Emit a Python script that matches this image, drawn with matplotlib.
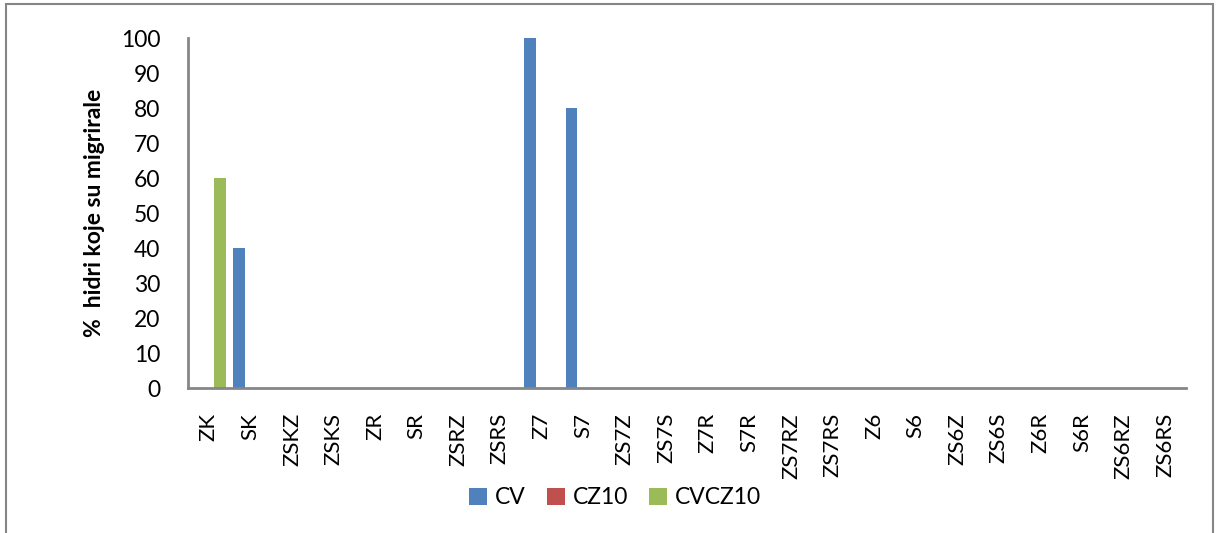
import numpy as np
import matplotlib.pyplot as plt
from matplotlib.patches import Rectangle

categories = ['ZK', 'SK', 'ZSKZ', 'ZSKS', 'ZR', 'SR', 'ZSRZ', 'ZSRS', 'Z7', 'S7',
              'ZS7Z', 'ZS7S', 'Z7R', 'S7R', 'ZS7RZ', 'ZS7RS', 'Z6', 'S6', 'ZS6Z',
              'ZS6S', 'Z6R', 'S6R', 'ZS6RZ', 'ZS6RS']
cv = [0, 40, 0, 0, 0, 0, 0, 0, 100, 80, 0, 0, 0, 0, 0, 0, 0, 0, 0, 0, 0, 0, 0, 0]
cz10 = [0] * 24
cvcz10 = [60, 0, 0, 0, 0, 0, 0, 0, 0, 0, 0, 0, 0, 0, 0, 0, 0, 0, 0, 0, 0, 0, 0, 0]

plt.rcParams['font.family'] = ['Lato', 'DejaVu Sans']

fig = plt.figure(figsize=(12.16, 5.33), dpi=100)
ax = fig.add_axes([0.1546, 0.272, 0.8207, 0.6567])

x = np.arange(len(categories))
w = 0.274
ax.bar(x - w, cv, w, color='#4F81BD', label='CV')
ax.bar(x, cz10, w, color='#C0504D', label='CZ10')
ax.bar(x + w, cvcz10, w, color='#9BBB59', label='CVCZ10')

ax.set_xlim(-0.5, len(categories) - 0.5)
ax.set_ylim(0, 100)
ax.set_yticks(range(0, 101, 10))
ax.set_xticks(x)
ax.set_xticklabels(categories, rotation=90, fontsize=16)
ax.tick_params(axis='y', labelsize=16.5, length=0, pad=20)
ax.tick_params(axis='x', length=0, pad=18)
ax.set_ylabel('%  hidri koje su migrirale', fontsize=16.5, fontweight='bold', labelpad=11)

for s in ['top', 'right']:
    ax.spines[s].set_visible(False)
for s in ['left', 'bottom']:
    ax.spines[s].set_color('#868686')
    ax.spines[s].set_linewidth(2)

ax.legend(loc='upper center', bbox_to_anchor=(0.428, -0.225), ncol=3, frameon=False,
          fontsize=16.5, handlelength=0.8, handleheight=0.8, handletextpad=0.35,
          columnspacing=0.9)

fig.patches.append(Rectangle((6 / 1216, -0.05), 1207 / 1216, 1 - 4 / 533 + 0.05,
                             transform=fig.transFigure, fill=False,
                             edgecolor='#868686', linewidth=1.5))

fig.savefig('out.png', dpi=100)
